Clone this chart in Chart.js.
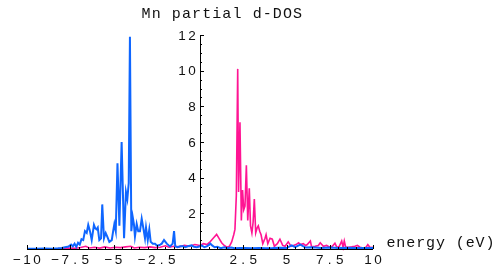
<!DOCTYPE html>
<html>
<head>
<meta charset="utf-8">
<script src="https://cdn.jsdelivr.net/npm/chart.js@4/dist/chart.umd.min.js"></script>
<style>
	body { margin: 0; background: #fff; }
	#dosChart { display: block; }
</style>
</head>
<body>
<canvas id="dosChart" width="498" height="270"></canvas>
<script>
// Mn partial d-DOS, two spin channels

var blueEnergy = [ -10, -9.5, -9, -8.5, -8.2, -8, -7.8, -7.6, -7.45, -7.35,
		-7.25, -7.15, -7.05, -6.95, -6.85, -6.75, -6.65, -6.55, -6.46, -6.36,
		-6.26, -6.13, -6.05, -5.98, -5.91, -5.82, -5.72, -5.65, -5.55, -5.45,
		-5.36, -5.24, -5.1, -5.02, -4.95, -4.87, -4.77, -4.66, -4.53, -4.39,
		-4.28, -4.2, -4.12, -4.05, -3.97, -3.89, -3.82, -3.76, -3.66, -3.57,
		-3.47, -3.37, -3.28, -3.18, -3.12, -3.02, -2.93, -2.85, -2.73, -2.6,
		-2.5, -2.41, -2.3, -2.21, -2.08, -1.92, -1.8, -1.73, -1.58, -1.5,
		-1.43, -1.3, -1.15, -0.97, -0.85, -0.7, -0.48, -0.35, -0.19, 0,
		0.1, 0.25, 0.39, 0.5, 0.6, 0.7, 0.85, 1, 1.2, 1.4,
		1.6, 1.8, 2, 2.3, 2.6, 3, 3.4, 3.8, 4.2, 4.6,
		5, 5.3, 5.5, 5.8, 6.1, 6.5, 7, 7.5, 8, 8.5,
		9, 9.5, 10 ];
var blueDos = [ 0.02, 0.02, 0.03, 0.02, 0.04, 0.06, 0.1, 0.14, 0.25, 0.15,
		0.3, 0.12, 0.35, 0.25, 0.55, 0.5, 1.0, 0.9, 1.35, 1.0,
		0.5, 1.35, 1.15, 1.1, 1.2, 0.5, 0.6, 2.5, 0.6, 0.9,
		0.7, 0.4, 0.5, 1.0, 1.4, 1.0, 4.8, 1.3, 6.0, 0.6,
		3.2, 2.8, 3.7, 11.9, 1.0, 1.8, 1.4, 0.7, 1.4, 1.0,
		1.0, 1.7, 1.2, 0.6, 1.2, 0.5, 1.1, 0.4, 0.3, 0.3,
		0.2, 0.2, 0.25, 0.3, 0.5, 0.3, 0.2, 0.15, 0.3, 1.0,
		0.15, 0.1, 0.15, 0.15, 0.1, 0.15, 0.2, 0.12, 0.1, 0.15,
		0.2, 0.1, 0.15, 0.22, 0.3, 0.2, 0.1, 0.12, 0.05, 0.1,
		0.05, 0.08, 0.04, 0.05, 0.06, 0.04, 0.06, 0.04, 0.05, 0.07,
		0.05, 0.2, 0.1, 0.25, 0.08, 0.1, 0.06, 0.08, 0.05, 0.07,
		0.05, 0.06, 0.05 ];

var pinkEnergy = [ -10, -9, -8.3, -8, -7.6, -7.2, -6.9, -6.6, -6.4, -6.1,
		-5.8, -5.5, -5.2, -4.9, -4.6, -4.3, -4, -3.8, -3.5, -3.2,
		-2.9, -2.6, -2.3, -2, -1.8, -1.5, -1.2, -0.9, -0.6, -0.3,
		0, 0.2, 0.4, 0.6, 0.8, 0.96, 1.1, 1.25, 1.4, 1.55,
		1.7, 1.83, 1.95, 2.02, 2.1, 2.18, 2.23, 2.31, 2.39, 2.46,
		2.53, 2.6, 2.68, 2.76, 2.85, 2.92, 3, 3.07, 3.14, 3.22,
		3.31, 3.37, 3.45, 3.53, 3.63, 3.76, 3.82, 3.92, 4.05, 4.18,
		4.3, 4.47, 4.62, 4.78, 4.92, 5.1, 5.27, 5.4, 5.55, 5.7,
		5.8, 5.97, 6.1, 6.2, 6.38, 6.45, 6.65, 6.84, 6.95, 7.13,
		7.32, 7.5, 7.65, 7.8, 7.92, 8.05, 8.19, 8.27, 8.34, 8.42,
		8.6, 8.77, 8.95, 9.1, 9.25, 9.45, 9.6, 9.7, 9.83, 10 ];
var pinkDos = [ 0, 0, 0.01, 0.03, 0.05, 0.04, 0.08, 0.15, 0.06, 0.1,
		0.05, 0.12, 0.06, 0.1, 0.08, 0.12, 0.15, 0.06, 0.1, 0.08,
		0.12, 0.08, 0.1, 0.18, 0.1, 0.15, 0.12, 0.2, 0.15, 0.25,
		0.2, 0.3, 0.25, 0.42, 0.65, 0.82, 0.6, 0.35, 0.2, 0.1,
		0.15, 0.4, 0.8, 1.1, 3.0, 10.1, 3.2, 7.1, 1.6, 3.3,
		2.2, 2.4, 4.7, 1.6, 3.4, 1.3, 0.9, 1.5, 2.8, 0.9,
		1.2, 1.3, 1.0, 0.8, 0.3, 0.6, 0.8, 0.3, 0.6, 0.55,
		0.15, 0.3, 0.55, 0.2, 0.15, 0.4, 0.15, 0.2, 0.25, 0.35,
		0.25, 0.3, 0.2, 0.25, 0.45, 0.12, 0.15, 0.2, 0.35, 0.15,
		0.2, 0.1, 0.15, 0.32, 0.08, 0.15, 0.45, 0.1, 0.45, 0.1,
		0.1, 0.12, 0.15, 0.2, 0.1, 0.06, 0.1, 0.25, 0.08, 0.1 ];

var xTicks = [ -10, -7.5, -5, -2.5, 2.5, 5, 7.5, 10 ];
var xTickLabels = [ '\u221210', '\u22127.5', '\u22125', '\u22122.5', '2.5', '5',
		'7.5', '10' ];
var yTicks = [ 2, 4, 6, 8, 10, 12 ];
var yTickLabels = [ '2', '4', '6', '8', '10', '12' ];

var titleText = 'Mn partial d-DOS';
var xAxisTitle = 'energy (eV)';

(function() {
	'use strict';

	function toPoints(xs, ys) {
		var pts = [];
		for (var i = 0; i < xs.length; i++) {
			pts.push({ x : xs[i], y : ys[i] });
		}
		return pts;
	}

	// draws each char in a fixed-width cell, like the old PostScript output
	function cellText(ctx, text, x, y, cell, align) {
		var w = text.length * cell;
		var start = x;
		if (align === 'right') {
			start = x - w;
		} else if (align === 'center') {
			start = x - w / 2;
		}
		ctx.textAlign = 'center';
		for (var i = 0; i < text.length; i++) {
			ctx.fillText(text[i], start + cell * (i + 0.5), y);
		}
	}

	var axesPlugin = {
		id : 'mmaAxes',
		afterDatasetsDraw : function(chart) {
			var ctx = chart.ctx;
			var xs = chart.scales.x, ys = chart.scales.y;
			var x0 = xs.getPixelForValue(0), y0 = ys.getPixelForValue(0);
			var v, p;
			ctx.save();
			ctx.strokeStyle = '#000';
			ctx.fillStyle = '#111';
			ctx.lineWidth = 1;

			// axis lines
			ctx.beginPath();
			ctx.moveTo(xs.getPixelForValue(-10), Math.round(y0) + 0.5);
			ctx.lineTo(xs.getPixelForValue(10), Math.round(y0) + 0.5);
			ctx.moveTo(Math.round(x0) + 0.5, y0);
			ctx.lineTo(Math.round(x0) + 0.5, ys.getPixelForValue(12));
			ctx.stroke();

			// minor + major ticks
			ctx.beginPath();
			for (v = -10; v <= 10.001; v += 0.5) {
				p = Math.round(xs.getPixelForValue(v)) + 0.5;
				var len = (Math.abs(v % 2.5) < 0.001) ? 4 : 2;
				ctx.moveTo(p, y0);
				ctx.lineTo(p, y0 - len);
			}
			for (v = 0.5; v <= 12.001; v += 0.5) {
				p = Math.round(ys.getPixelForValue(v)) + 0.5;
				var ylen = (Math.abs(v % 2) < 0.001) ? 4 : 2;
				ctx.moveTo(x0, p);
				ctx.lineTo(x0 + ylen, p);
			}
			ctx.stroke();

			// tick labels
			ctx.font = '13.5px "Liberation Sans", Arial, sans-serif';
			ctx.textBaseline = 'middle';
			xTicks.forEach(function(t, i) {
				cellText(ctx, xTickLabels[i], xs.getPixelForValue(t), y0 + 11,
						10, 'center');
			});
			yTicks.forEach(function(t, i) {
				cellText(ctx, yTickLabels[i], x0 - 3, ys.getPixelForValue(t) + 1,
						10, 'right');
			});

			// title and axis label
			ctx.font = '15px "Liberation Mono", "Courier New", monospace';
			ctx.textBaseline = 'alphabetic';
			cellText(ctx, titleText, 141, 18, 10.1, 'left');
			cellText(ctx, xAxisTitle, 386, 247, 9.9, 'left');
			ctx.restore();
		}
	};

	var ctx = document.getElementById('dosChart');
	new Chart(ctx, {
		type : 'line',
		data : {
			datasets : [ {
				label : 'blue',
				data : toPoints(blueEnergy, blueDos),
				borderColor : '#0f66ff',
				borderWidth : 2,
				pointRadius : 0,
				tension : 0,
				clip : false
			}, {
				label : 'pink',
				data : toPoints(pinkEnergy, pinkDos),
				borderColor : '#ff1493',
				borderWidth : 1.6,
				pointRadius : 0,
				tension : 0,
				clip : false
			} ]
		},
		options : {
			responsive : false,
			devicePixelRatio : 1,
			animation : false,
			layout : {
				padding : { left : 27, right : 125, top : 35, bottom : 21 }
			},
			plugins : {
				legend : { display : false },
				tooltip : { enabled : false }
			},
			scales : {
				x : { type : 'linear', min : -10, max : 10, display : false },
				y : { min : 0, max : 12, display : false }
			}
		},
		plugins : [ axesPlugin ]
	});
})();
</script>
</body>
</html>
